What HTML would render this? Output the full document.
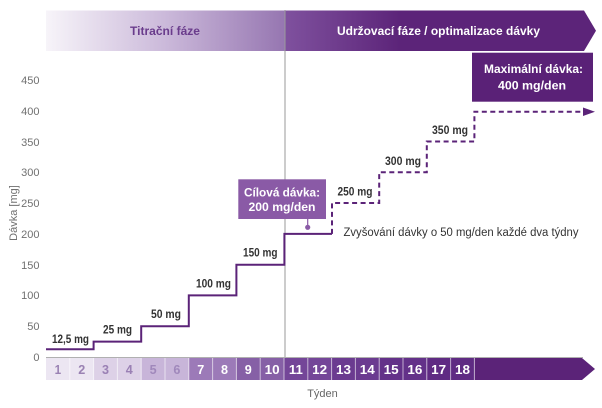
<!DOCTYPE html>
<html><head><meta charset="utf-8"><style>
html,body{margin:0;padding:0;background:#fff;}
svg{display:block;}
text{font-family:"Liberation Sans",sans-serif;}
</style></head><body>
<svg width="602" height="408" viewBox="0 0 602 408" xmlns="http://www.w3.org/2000/svg">
<defs>
<linearGradient id="gl" x1="46" x2="285" y1="0" y2="0" gradientUnits="userSpaceOnUse">
<stop offset="0" stop-color="#f7f4f9"/><stop offset="0.5" stop-color="#cbb9da"/><stop offset="1" stop-color="#9676b1"/>
</linearGradient>
<linearGradient id="gr" x1="285" x2="400" y1="0" y2="0" gradientUnits="userSpaceOnUse">
<stop offset="0" stop-color="#7f519e"/><stop offset="1" stop-color="#5c2479"/>
</linearGradient>
</defs>
<!-- top banner -->
<rect x="46" y="10.5" width="239" height="40.5" fill="url(#gl)"/>
<polygon points="285,10.5 584,10.5 596,30.7 584,51 285,51" fill="url(#gr)"/>
<text x="165" y="35" text-anchor="middle" font-size="12" font-weight="bold" fill="#6a3c8c" textLength="70" lengthAdjust="spacingAndGlyphs">Titrační fáze</text>
<text x="438.5" y="35" text-anchor="middle" font-size="12" font-weight="bold" fill="#fff" textLength="203" lengthAdjust="spacingAndGlyphs">Udržovací fáze / optimalizace dávky</text>
<!-- vertical divider -->
<line x1="285" y1="10" x2="285" y2="358" stroke="#9a9a9a" stroke-width="1"/>
<!-- y axis labels -->
<g font-size="11" fill="#707070" text-anchor="end">
<text x="39.5" y="84">450</text>
<text x="39.5" y="115">400</text>
<text x="39.5" y="146">350</text>
<text x="39.5" y="176">300</text>
<text x="39.5" y="207">250</text>
<text x="39.5" y="238">200</text>
<text x="39.5" y="269">150</text>
<text x="39.5" y="299">100</text>
<text x="39.5" y="330">50</text>
<text x="39.5" y="361">0</text>
</g>
<text transform="translate(17,213) rotate(-90)" text-anchor="middle" font-size="11" fill="#707070">Dávka [mg]</text>
<!-- axis line -->
<line x1="46" y1="357.5" x2="583" y2="357.5" stroke="#b0b0b0" stroke-width="1"/>
<!-- bottom week bar -->
<g>
<rect x="46" y="358" width="47.6" height="22" fill="#ece6f2"/>
<rect x="93.6" y="358" width="47.6" height="22" fill="#ddd1e7"/>
<rect x="141.2" y="358" width="47.6" height="22" fill="#c8b5d9"/>
<rect x="188.8" y="358" width="47.6" height="22" fill="#9c7ab8"/>
<rect x="236.4" y="358" width="47.6" height="22" fill="#8660a6"/>
<rect x="284" y="358" width="47.6" height="22" fill="#744698"/>
<rect x="331.6" y="358" width="47.6" height="22" fill="#6b3b90"/>
<rect x="379.2" y="358" width="47.6" height="22" fill="#633189"/>
<rect x="426.8" y="358" width="47.6" height="22" fill="#5f2b83"/>
<polygon points="474.4,358 582,358 595,369 582,380 474.4,380" fill="#5b2378"/>
</g>
<g stroke="#ffffff" stroke-opacity="0.6" stroke-width="1">
<line x1="69.8" y1="358" x2="69.8" y2="380"/><line x1="93.6" y1="358" x2="93.6" y2="380"/>
<line x1="117.4" y1="358" x2="117.4" y2="380"/><line x1="141.2" y1="358" x2="141.2" y2="380"/>
<line x1="165" y1="358" x2="165" y2="380"/><line x1="188.8" y1="358" x2="188.8" y2="380"/>
<line x1="212.6" y1="358" x2="212.6" y2="380"/><line x1="236.4" y1="358" x2="236.4" y2="380"/>
<line x1="260.2" y1="358" x2="260.2" y2="380"/><line x1="284" y1="358" x2="284" y2="380"/>
<line x1="307.8" y1="358" x2="307.8" y2="380"/><line x1="331.6" y1="358" x2="331.6" y2="380"/>
<line x1="355.4" y1="358" x2="355.4" y2="380"/><line x1="379.2" y1="358" x2="379.2" y2="380"/>
<line x1="403" y1="358" x2="403" y2="380"/><line x1="426.8" y1="358" x2="426.8" y2="380"/>
<line x1="450.6" y1="358" x2="450.6" y2="380"/><line x1="474.4" y1="358" x2="474.4" y2="380"/>
</g>
<g font-size="13" font-weight="bold" text-anchor="middle">
<text x="57.9" y="374" fill="#9a82b3" textLength="6.5" lengthAdjust="spacingAndGlyphs">1</text>
<text x="81.7" y="374" fill="#9a82b3" textLength="7" lengthAdjust="spacingAndGlyphs">2</text>
<text x="105.5" y="374" fill="#9a80b4" textLength="7" lengthAdjust="spacingAndGlyphs">3</text>
<text x="129.3" y="374" fill="#9a80b4" textLength="7" lengthAdjust="spacingAndGlyphs">4</text>
<text x="153.1" y="374" fill="#a088bb" textLength="7" lengthAdjust="spacingAndGlyphs">5</text>
<text x="176.9" y="374" fill="#a088bb" textLength="7" lengthAdjust="spacingAndGlyphs">6</text>
<g fill="#ffffff">
<text x="200.7" y="374" textLength="7" lengthAdjust="spacingAndGlyphs">7</text>
<text x="224.5" y="374" textLength="7" lengthAdjust="spacingAndGlyphs">8</text>
<text x="248.3" y="374" textLength="7" lengthAdjust="spacingAndGlyphs">9</text>
<text x="272.1" y="374" textLength="15" lengthAdjust="spacingAndGlyphs">10</text>
<text x="295.9" y="374" textLength="14" lengthAdjust="spacingAndGlyphs">11</text>
<text x="319.7" y="374" textLength="15" lengthAdjust="spacingAndGlyphs">12</text>
<text x="343.5" y="374" textLength="15" lengthAdjust="spacingAndGlyphs">13</text>
<text x="367.3" y="374" textLength="15" lengthAdjust="spacingAndGlyphs">14</text>
<text x="391.1" y="374" textLength="15" lengthAdjust="spacingAndGlyphs">15</text>
<text x="414.9" y="374" textLength="15" lengthAdjust="spacingAndGlyphs">16</text>
<text x="438.7" y="374" textLength="15" lengthAdjust="spacingAndGlyphs">17</text>
<text x="462.5" y="374" textLength="15" lengthAdjust="spacingAndGlyphs">18</text>
</g>
</g>
<text x="322.5" y="397" text-anchor="middle" font-size="11" fill="#666">Týden</text>
<!-- solid dose line -->
<polyline points="46,349.3 93.6,349.3 93.6,341.6 141.2,341.6 141.2,326.2 188.8,326.2 188.8,295.4 236.4,295.4 236.4,264.7 284.4,264.7 284.4,233.9 332,233.9" fill="none" stroke="#5b2378" stroke-width="2"/>
<!-- dashed -->
<polyline points="332,233.9 332,203 379.2,203 379.2,172.2 426.8,172.2 426.8,141.5 474.4,141.5 474.4,111.7 584,111.7" fill="none" stroke="#5b2378" stroke-width="2" stroke-dasharray="5,3.5"/>
<polygon points="583,107.5 595,111.7 583,116" fill="#5b2378"/>
<!-- step labels -->
<g font-size="11.5" font-weight="bold" fill="#333">
<text x="52" y="343" textLength="37" lengthAdjust="spacingAndGlyphs">12,5 mg</text>
<text x="103" y="333.5" textLength="29" lengthAdjust="spacingAndGlyphs">25 mg</text>
<text x="151" y="318" textLength="30" lengthAdjust="spacingAndGlyphs">50 mg</text>
<text x="196" y="287.5" textLength="35" lengthAdjust="spacingAndGlyphs">100 mg</text>
<text x="243" y="256.5" textLength="34.5" lengthAdjust="spacingAndGlyphs">150 mg</text>
<text x="337.5" y="195.5" textLength="35" lengthAdjust="spacingAndGlyphs">250 mg</text>
<text x="385" y="165" textLength="36" lengthAdjust="spacingAndGlyphs">300 mg</text>
<text x="432" y="134" textLength="36" lengthAdjust="spacingAndGlyphs">350 mg</text>
</g>
<!-- target box -->
<rect x="238.3" y="179.3" width="87.7" height="39.7" fill="#8a5aa6"/>
<line x1="307.7" y1="219" x2="307.7" y2="226" stroke="#8a5aa6" stroke-width="1.2"/>
<circle cx="307.7" cy="227.3" r="2.6" fill="#8a5aa6"/>
<text x="282" y="196.5" text-anchor="middle" font-size="12" font-weight="bold" fill="#fff" textLength="76" lengthAdjust="spacingAndGlyphs">Cílová dávka:</text>
<text x="282" y="211" text-anchor="middle" font-size="12" font-weight="bold" fill="#fff" textLength="67" lengthAdjust="spacingAndGlyphs">200 mg/den</text>
<!-- annotation -->
<text x="343.5" y="236" font-size="11.5" fill="#333" textLength="235" lengthAdjust="spacingAndGlyphs">Zvyšování dávky o 50 mg/den každé dva týdny</text>
<!-- max box -->
<rect x="472" y="52.7" width="121" height="49" fill="#5a2177"/>
<text x="533.5" y="73" text-anchor="middle" font-size="12" font-weight="bold" fill="#fff" textLength="99" lengthAdjust="spacingAndGlyphs">Maximální dávka:</text>
<text x="532" y="89.5" text-anchor="middle" font-size="12" font-weight="bold" fill="#fff" textLength="68" lengthAdjust="spacingAndGlyphs">400 mg/den</text>
</svg>
</body></html>
